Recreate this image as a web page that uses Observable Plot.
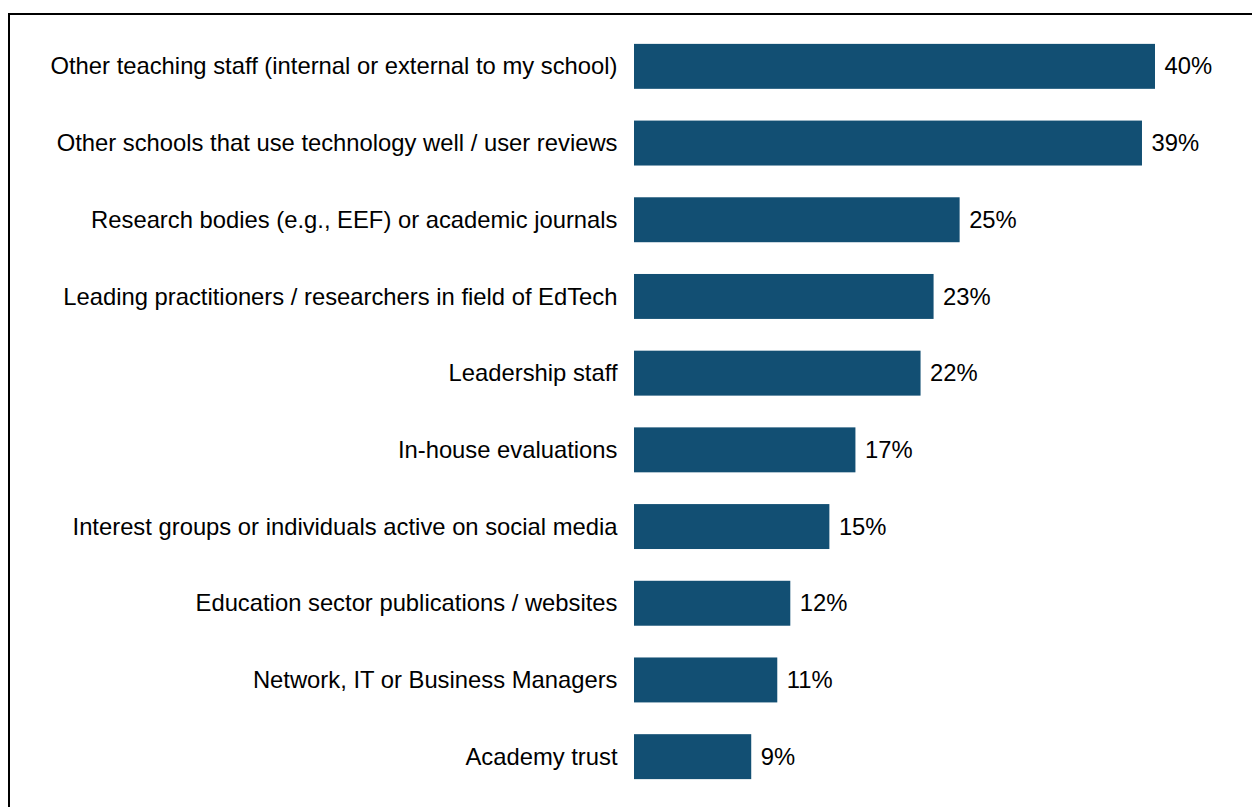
<!DOCTYPE html>
<html>
<head>
<meta charset="utf-8">
<script src="https://cdn.jsdelivr.net/npm/d3@7"></script>
<script src="https://cdn.jsdelivr.net/npm/@observablehq/plot@0.6"></script>
<style>
  html, body { margin: 0; padding: 0; background: #fff; }
  #wrap { position: relative; width: 1252px; height: 807px; overflow: hidden; }
  #frame { position: absolute; left: 8px; top: 13px; right: -4px; bottom: -4px; border-left: 2px solid #000; border-top: 2px solid #000; pointer-events: none; }
</style>
</head>
<body>
<div id="wrap"><div id="frame"></div></div>
<script>
// Sources of information and advice on education technology (% of respondents)
const sources = [
  "Other teaching staff (internal or external to my school)",
  "Other schools that use technology well / user reviews",
  "Research bodies (e.g., EEF) or academic journals",
  "Leading practitioners / researchers in field of EdTech",
  "Leadership staff",
  "In-house evaluations",
  "Interest groups or individuals active on social media",
  "Education sector publications / websites",
  "Network, IT or Business Managers",
  "Academy trust"
];
const shares = [40, 39, 25, 23, 22, 17, 15, 12, 11, 9];

const rows = sources.map((source, i) => ({source, share: shares[i]}));

const chart = Plot.plot({
  width: 1252,
  height: 807,
  marginLeft: 634,
  marginRight: 97,
  marginTop: 28,
  marginBottom: 12,
  style: {fontFamily: "'Liberation Sans', Arial, sans-serif", fontSize: "23.8px", color: "#000", background: "transparent"},
  x: {domain: [0, 40], axis: null},
  y: {domain: sources, paddingInner: 0.414, paddingOuter: 0.207, round: false, label: null},
  marks: [
    Plot.barX(rows, {x: "share", y: "source", fill: "#124f73"}),
    Plot.text(rows, {x: "share", y: "source", text: d => `${d.share}%`, textAnchor: "start", dx: 9, fill: "#000", fontSize: 23.8}),
    Plot.axisY({tickSize: 0, tickPadding: 17, fontSize: 23.8, label: null})
  ]
});
document.getElementById("wrap").prepend(chart);
</script>
</body>
</html>
